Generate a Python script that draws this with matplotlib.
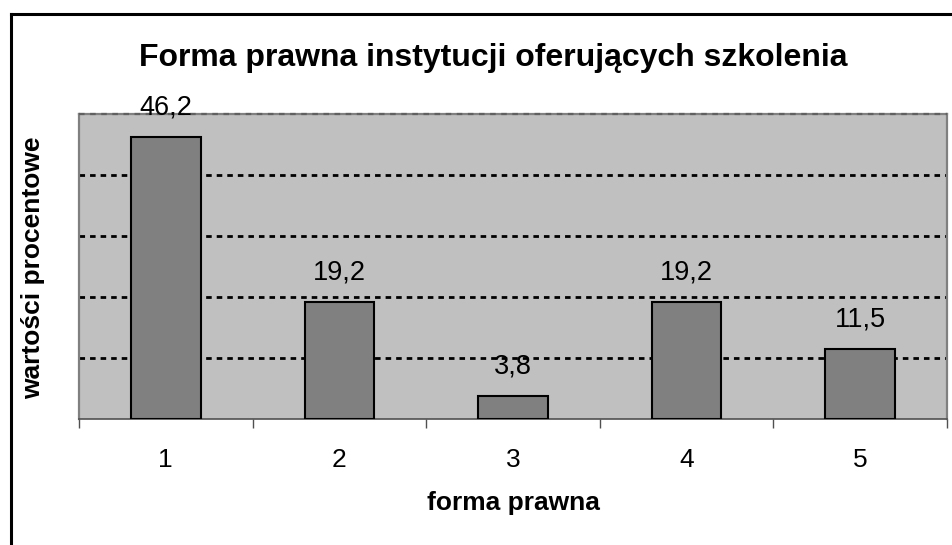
import matplotlib
matplotlib.use("Agg")

import matplotlib.pyplot as plt
from matplotlib.lines import Line2D
import numpy as np

# data
categories = ["1", "2", "3", "4", "5"]
values = [46.2, 19.2, 3.8, 19.2, 11.5]
value_labels = ["46,2", "19,2", "3,8", "19,2", "11,5"]
grid_levels = [10, 20, 30, 40]

plt.rcParams["font.family"] = ["Liberation Sans", "DejaVu Sans"]

fig = plt.figure(figsize=(9.53, 5.45), dpi=100, facecolor="white")
ax = fig.add_axes([79 / 953, 1 - 419 / 545, (947 - 79) / 953, (419 - 114) / 545])
ax.set_facecolor("#C0C0C0")

x = np.arange(1, len(categories) + 1)
ax.bar(x, values, width=0.4, color="#808080", edgecolor="black", linewidth=1.5, zorder=3)

# dotted grid lines
for g in grid_levels:
    ax.axhline(g, color="black", linewidth=2.0, linestyle=(0, (2, 1.8)), zorder=2)
ax.axhline(50, color="#606060", linewidth=1.6, linestyle=(0, (2.5, 2.5)), zorder=4, clip_on=False)

ax.set_xlim(0.5, 5.5)
ax.set_ylim(0, 50)

# value labels
for xi, v, lab in zip(x, values, value_labels):
    ax.annotate(lab, (xi, v), xytext=(0, 12), textcoords="offset points",
                ha="center", va="bottom", fontsize=19.5, color="black", zorder=5,
                annotation_clip=False)

# spines
for side in ["left", "right", "top"]:
    ax.spines[side].set_color("#808080")
    ax.spines[side].set_linewidth(1.6)
ax.spines["bottom"].set_color("#505050")
ax.spines["bottom"].set_linewidth(1.2)

ax.set_yticks([])
ax.set_xticks(x)
ax.set_xticklabels(categories, fontsize=19)
ax.tick_params(axis="x", which="major", length=0, pad=21)
ax.set_xticks(np.arange(0.5, 6.0, 1.0), minor=True)
ax.tick_params(axis="x", which="minor", length=6.5, width=1.0, color="#505050", direction="out")

# titles
fig.text(493 / 953, 1 - 58 / 545, "Forma prawna instytucji oferujących szkolenia",
         ha="center", va="center", fontsize=23, fontweight="bold")
fig.text(0.5 * (79 + 947) / 953, 1 - 503 / 545, "forma prawna",
         ha="center", va="center", fontsize=19, fontweight="bold")
fig.text(33 / 953, 1 - 268 / 545, "wartości procentowe", rotation=90,
         ha="center", va="center", fontsize=19, fontweight="bold")

# outer chart border (top and left visible)
fig.add_artist(Line2D([11 / 953, 1.0], [1 - 14 / 545, 1 - 14 / 545], color="black", linewidth=2.2,
                      transform=fig.transFigure))
fig.add_artist(Line2D([11 / 953, 11 / 953], [0.0, 1 - 14 / 545], color="black", linewidth=2.2,
                      transform=fig.transFigure))

fig.savefig("out.png", dpi=100)
